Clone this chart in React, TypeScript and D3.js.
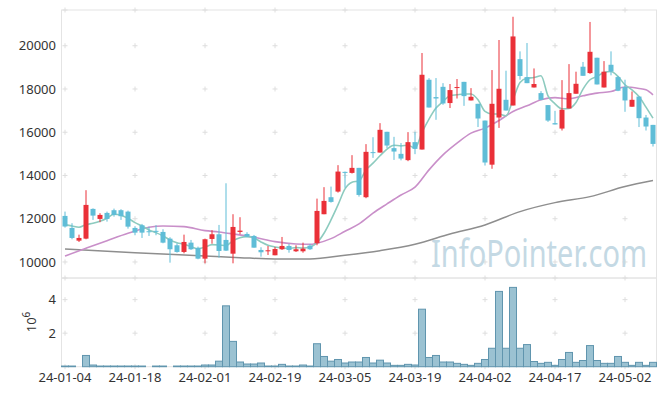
import React from "react";
import * as d3 from "d3";

const dates = [
  "24-01-04","24-01-05","24-01-08","24-01-09","24-01-10","24-01-11","24-01-12","24-01-15","24-01-16","24-01-17",
  "24-01-18","24-01-19","24-01-22","24-01-23","24-01-24","24-01-25","24-01-26","24-01-29","24-01-30","24-01-31",
  "24-02-01","24-02-02","24-02-05","24-02-06","24-02-07","24-02-08","24-02-13","24-02-14","24-02-15","24-02-16",
  "24-02-19","24-02-20","24-02-21","24-02-22","24-02-23","24-02-26","24-02-27","24-02-28","24-02-29","24-03-04",
  "24-03-05","24-03-06","24-03-07","24-03-08","24-03-11","24-03-12","24-03-13","24-03-14","24-03-15","24-03-18",
  "24-03-19","24-03-20","24-03-21","24-03-22","24-03-25","24-03-26","24-03-27","24-03-28","24-03-29","24-04-01",
  "24-04-02","24-04-03","24-04-04","24-04-05","24-04-08","24-04-09","24-04-11","24-04-12","24-04-15","24-04-16",
  "24-04-17","24-04-18","24-04-19","24-04-22","24-04-23","24-04-24","24-04-25","24-04-26","24-04-29","24-04-30",
  "24-05-02","24-05-03","24-05-07","24-05-08","24-05-09"
];

const open = [12130,11574,10986,11079,12454,11991,12269,12394,12394,12329,11574,11699,11421,11440,11389,11079,10773,10463,10894,10648,
  10154,11065,11282,11019,10384,11389,11296,11204,10556,10510,10310,10588,10741,10495,10495,10755,10866,12208,12995,13255,
  14167,14120,14352,12995,15080,15060,16020,15265,15000,14710,15542,15200,18427,17625,18100,17350,18050,18330,17470,17315,
  16540,14500,16680,17500,17237,19380,18550,18070,17810,17255,16420,16170,17100,17780,19030,18736,19445,18070,19120,18550,
  18090,17180,17650,16680,16340];
const high = [12330,11792,11264,13320,12480,12255,12330,12468,12440,12375,11653,11760,11634,11700,11514,11144,10866,11264,11019,10710,
  11080,11468,11713,13640,12208,12070,11375,11250,10680,10740,10695,11157,10833,10773,10894,10833,12930,13460,13486,14477,
  14180,14940,14352,15450,15770,16420,16020,15787,15500,16005,16020,19663,18500,18505,18270,18230,18460,18330,18040,17315,
  16540,18875,20265,18845,21340,19740,20126,18950,17900,17255,16990,18410,19150,18800,19250,21100,19445,19290,19740,18600,
  18430,17885,17650,16800,16340];
const low = [11590,11051,10926,11050,11945,11838,11866,12097,11945,11542,11236,11111,11204,11236,10864,9968,10431,10402,10556,10125,
  9938,10847,10200,10509,9938,11282,11144,10662,10245,10324,10310,10556,10430,10463,10430,10556,10773,12208,12745,13209,
  13430,14090,13023,12950,14815,15060,15265,14720,14700,14662,14986,15200,17144,16575,17270,17120,17560,17220,17470,16240,
  14460,14310,16200,17005,17237,18430,18270,18070,17480,16480,16360,16080,17100,17780,18610,18700,18210,18070,18630,17900,
  16945,17180,16240,16080,15340];
const close = [11640,11111,11111,12639,12144,12176,11991,12176,12116,11634,11357,11357,11389,11400,10894,10588,10463,10926,10588,10154,
  11051,11282,10509,10525,11620,11450,11170,10662,10449,10540,10602,10741,10556,10588,10616,10588,12361,12824,12778,14181,
  14120,14352,13100,15093,15050,16112,15385,15107,14783,15542,15232,18658,17144,17560,17330,17950,18090,17670,17640,16635,
  14600,17315,18010,17005,20430,18600,18270,18230,17500,16540,16360,17040,17810,18240,18610,19720,18210,18800,18810,17920,
  17470,17500,16650,16265,15460];

// volume in millions of shares
const volume = [0.04,0.04,0,0.67,0.1,0.04,0.04,0.04,0.04,0.04,0.04,0.04,0,0.04,0.04,0,0.04,0.04,0.04,0.04,
  0.1,0.1,0.33,3.63,1.51,0.28,0.16,0.16,0.22,0.04,0.04,0.14,0.04,0.04,0.1,0.04,1.37,0.61,0.33,0.43,
  0.22,0.28,0.28,0.55,0.22,0.39,0.22,0.08,0.08,0.14,0.1,3.43,0.55,0.67,0.28,0.28,0.2,0.14,0.08,0.2,
  0.43,1.1,4.49,1.1,4.73,1.1,1.32,0.31,0.2,0.26,0.08,0.43,0.85,0.26,0.37,1.26,0.37,0.2,0.2,0.61,
  0.26,0.08,0.26,0.08,0.26];

const ma5 = [11727,11667,11606,11727,11790,11884,12023,12208,12162,12023,11820,11667,11481,11357,11204,11019,10894,10818,10710,10617,
  10680,10803,10787,10756,10987,11125,11171,11111,10926,10773,10695,10648,10633,10664,10648,10695,10894,11329,11945,12639,
  13380,13690,13750,14260,14570,14910,15220,15400,15370,15400,15265,15990,16607,17116,17420,17686,17730,17765,17765,17500,
  16960,16840,16840,16760,17500,18300,18500,18530,18610,17686,17315,17083,17100,17375,17995,18427,18580,18765,18810,18580,
  18195,17963,17653,17160,16650];

const ma20Idx = [0,3,6,9,12,14,17,20,22,24,27,30,33,35,36,38,40,42,44,46,48,50,52,54,56,58,60,62,64,66,68,70,72,74,76,78,80,82,83,84];
const ma20Val = [10278,10634,10986,11329,11606,11667,11634,11450,11390,11300,11143,10940,10833,10818,10870,11080,11420,11760,12255,12685,
  13100,13460,14260,14954,15495,15958,16190,16540,16960,17220,17500,17600,17550,17686,17810,17885,18090,18025,17963,17732];

const ma120Idx = [0,10,20,25,30,35,40,45,50,55,60,65,70,75,80,84];
const ma120Val = [10602,10431,10278,10200,10139,10139,10310,10523,10820,11290,11713,12330,12745,13023,13486,13764];

const priceTicks = [10000,12000,14000,16000,18000,20000];
const volTicks = [2,4];
const dateTickIdx = [0,10,20,30,40,50,60,70,80];

const W = 665, H = 396;
const L = 61.5, R = 656.5, T = 10, MID = 278, B = 366.7;
const FONT = "'Noto Sans', 'DejaVu Sans', sans-serif";

export default function App() {
  const idx = d3.range(dates.length);
  const x = d3.scaleBand<number>().domain(idx).range([L, R]).padding(0);
  const bw = x.bandwidth();
  const cx = (i: number) => (x(i) as number) + bw / 2;
  const y = d3.scaleLinear().domain([9259, 21653]).range([MID, T]);
  const yv = d3.scaleLinear().domain([0, 5.29]).range([B, MID]);

  const lineMA5 = d3.line<number>().x((_, i) => cx(i)).y((d) => y(d)).curve(d3.curveMonotoneX);
  const linePts = d3.line<[number, number]>().x((d) => cx(d[0])).y((d) => y(d[1])).curve(d3.curveMonotoneX);
  const ma20Pts = ma20Idx.map((d, k) => [d, ma20Val[k]] as [number, number]);
  const ma120Pts = ma120Idx.map((d, k) => [d, ma120Val[k]] as [number, number]);

  const up = "#ea3038";
  const down = "#5fbdd7";
  const grid = "#dedede";

  const plus = (px: number, py: number, key: string) => (
    <g key={key} stroke={grid} strokeWidth={1}>
      <line x1={px - 2.5} x2={px + 2.5} y1={py} y2={py} />
      <line x1={px} x2={px} y1={py - 2.5} y2={py + 2.5} />
    </g>
  );

  const gridMarks: JSX.Element[] = [];
  dateTickIdx.forEach((di) => {
    priceTicks.forEach((p) => gridMarks.push(plus(cx(di), y(p), `p${di}-${p}`)));
    volTicks.forEach((v) => gridMarks.push(plus(cx(di), yv(v), `v${di}-${v}`)));
    gridMarks.push(plus(cx(di), T, `t${di}`));
    gridMarks.push(plus(cx(di), MID, `m${di}`));
    gridMarks.push(plus(cx(di), B, `b${di}`));
  });

  return (
    <div style={{ position: "absolute", left: 0, top: 0 }}>
      <svg width={W} height={H} style={{ display: "block", background: "#fff" }} fontFamily={FONT}>
        {/* frame */}
        <g stroke="#e4e4e4" strokeWidth={1} fill="none">
          <rect x={L} y={T} width={R - L} height={MID - T} />
          <rect x={L} y={MID} width={R - L} height={B - MID} />
        </g>
        {gridMarks}

        {/* watermark */}
        <text
          transform="translate(431,267) scale(1,1.3)"
          fontSize={29}
          fill="#c4d9e4"
          textLength={216}
          lengthAdjust="spacingAndGlyphs"
        >
          InfoPointer.com
        </text>

        {/* moving averages */}
        <path d={linePts(ma120Pts) || ""} fill="none" stroke="#8e8e8e" strokeWidth={1.5} />
        <path d={linePts(ma20Pts) || ""} fill="none" stroke="#c98fc9" strokeWidth={1.6} />
        <path d={lineMA5(ma5) || ""} fill="none" stroke="#8dcbbf" strokeWidth={1.6} />

        {/* candles */}
        {idx.map((i) => {
          const isUp = close[i] >= open[i];
          const col = isUp ? up : down;
          const top = y(Math.max(open[i], close[i]));
          const bot = y(Math.min(open[i], close[i]));
          return (
            <g key={`c${i}`}>
              <line x1={cx(i)} x2={cx(i)} y1={y(high[i])} y2={y(low[i])} stroke={col} strokeWidth={1} />
              <rect x={cx(i) - 2.5} y={top} width={5} height={Math.max(1, bot - top)} fill={col} />
            </g>
          );
        })}

        {/* volume */}
        {idx.map((i) =>
          volume[i] > 0 ? (
            <rect
              key={`v${i}`}
              x={x(i) as number}
              y={yv(volume[i])}
              width={bw}
              height={B - yv(volume[i])}
              fill="#9bc2d2"
              stroke="#6095ae"
              strokeWidth={1}
            />
          ) : null
        )}

        {/* price axis labels */}
        {priceTicks.map((p) => (
          <text key={`pt${p}`} x={56} y={y(p)} dy="0.35em" textAnchor="end" fontSize={13} fill="#333">
            {p}
          </text>
        ))}
        {volTicks.map((v) => (
          <text key={`vt${v}`} x={56} y={yv(v)} dy="0.35em" textAnchor="end" fontSize={13} fill="#333">
            {v}
          </text>
        ))}
        <text transform={`translate(36,322) rotate(-90)`} textAnchor="middle" fontSize={13} fill="#333">
          10<tspan dy="-6" fontSize={10}>6</tspan>
        </text>

        {/* date labels */}
        {dateTickIdx.map((di) => (
          <text key={`d${di}`} x={cx(di)} y={382} textAnchor="middle" fontSize={13} fill="#333">
            {dates[di]}
          </text>
        ))}
      </svg>
    </div>
  );
}
